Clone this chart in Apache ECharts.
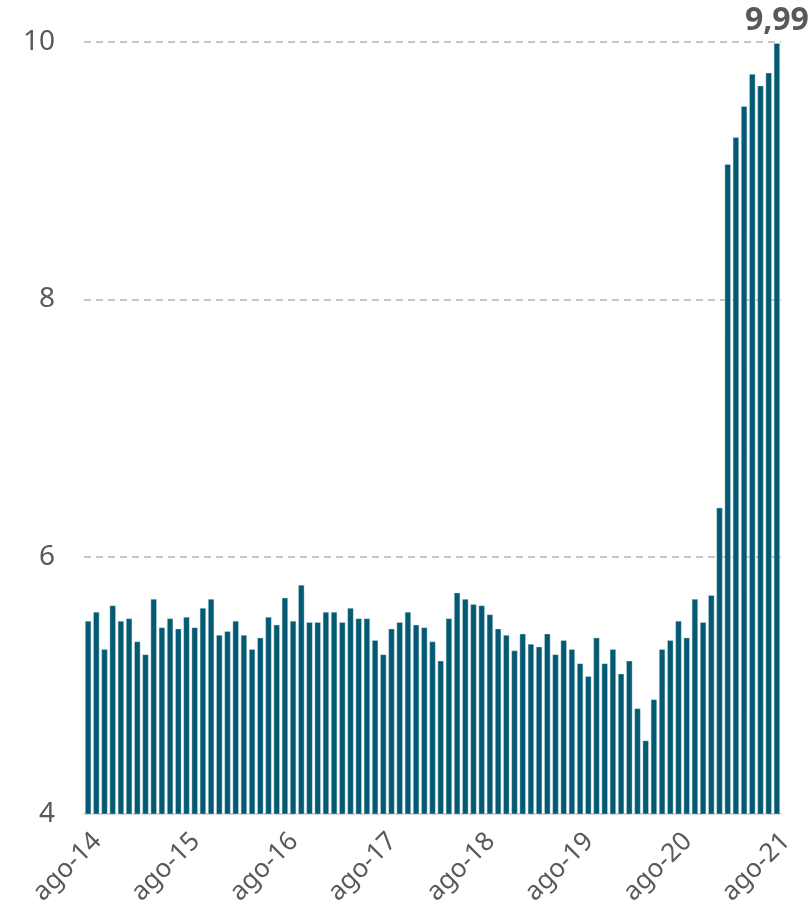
<!DOCTYPE html>
<html>
<head>
<meta charset="utf-8">
<script src="https://cdn.jsdelivr.net/npm/echarts@6/dist/echarts.min.js"></script>
<style>
  html, body { margin: 0; padding: 0; background: #fff; }
  #chart { width: 811px; height: 903px; }
</style>
</head>
<body>
<div id="chart"></div>
<script>
// meses (ago-14 .. ago-21)
const meses = ['ene', 'feb', 'mar', 'abr', 'may', 'jun', 'jul', 'ago', 'sep', 'oct', 'nov', 'dic'];
const anioInicio = 14;
const mesInicio = 7; // ago

// valores mensuales (un bloque por año, ago..jul)
const v2014 = [5.50, 5.57, 5.28, 5.62, 5.50, 5.52, 5.34, 5.24, 5.67, 5.45, 5.52, 5.44];
const v2015 = [5.53, 5.45, 5.60, 5.67, 5.39, 5.42, 5.50, 5.39, 5.28, 5.37, 5.53, 5.47];
const v2016 = [5.68, 5.50, 5.78, 5.49, 5.49, 5.57, 5.57, 5.49, 5.60, 5.52, 5.52, 5.35];
const v2017 = [5.24, 5.44, 5.49, 5.57, 5.47, 5.45, 5.34, 5.19, 5.52, 5.72, 5.67, 5.63];
const v2018 = [5.62, 5.55, 5.44, 5.39, 5.27, 5.40, 5.32, 5.30, 5.40, 5.24, 5.35, 5.28];
const v2019 = [5.17, 5.07, 5.37, 5.17, 5.28, 5.09, 5.19, 4.82, 4.57, 4.89, 5.28, 5.35];
const v2020 = [5.50, 5.37, 5.67, 5.49, 5.70, 6.38, 9.05, 9.26, 9.50, 9.75, 9.66, 9.76, 9.99];

const valores = [].concat(v2014, v2015, v2016, v2017, v2018, v2019, v2020);

const categorias = valores.map((_, i) => {
  const m = mesInicio + i;
  return meses[m % 12] + '-' + (anioInicio + Math.floor(m / 12));
});

const yTicks = [4, 6, 8, 10];

const FONT = '"Noto Sans", sans-serif';
const GRIS = '#595959';

const chart = echarts.init(document.getElementById('chart'));

const option = {
  animation: false,
  grid: { left: 84, right: 30, top: 42, bottom: 89, outerBoundsMode: 'none' },
  xAxis: {
    type: 'category',
    data: categorias,
    boundaryGap: true,
    axisLine: { lineStyle: { color: '#d9d9d9', width: 1.5 } },
    axisTick: { interval: 11, length: 6, lineStyle: { color: '#d9d9d9', width: 2 } },
    axisLabel: {
      interval: 11,
      rotate: 45,
      margin: 14,
      verticalAlign: 'top',
      color: GRIS,
      fontFamily: FONT,
      fontSize: 26
    }
  },
  yAxis: {
    type: 'value',
    min: yTicks[0],
    max: yTicks[yTicks.length - 1],
    interval: 2,
    axisLine: { show: false },
    axisTick: { show: false },
    axisLabel: { color: GRIS, fontFamily: FONT, fontSize: 28, margin: 29 },
    splitLine: { lineStyle: { color: '#b4b4b4', type: [7, 5], width: 1.5 } }
  },
  series: [{
    type: 'bar',
    barWidth: 6,
    data: valores.map((v, i) => i === valores.length - 1
      ? {
          value: v,
          label: {
            show: true,
            position: 'top',
            distance: 6,
            color: GRIS,
            fontFamily: FONT,
            fontWeight: 'bold',
            fontSize: 32,
            formatter: p => p.value.toFixed(2).replace('.', ',')
          }
        }
      : v),
    itemStyle: { color: '#045a72', borderColor: '#cfe3ea', borderWidth: 0.4 }
  }]
};

chart.setOption(option);
</script>
</body>
</html>
